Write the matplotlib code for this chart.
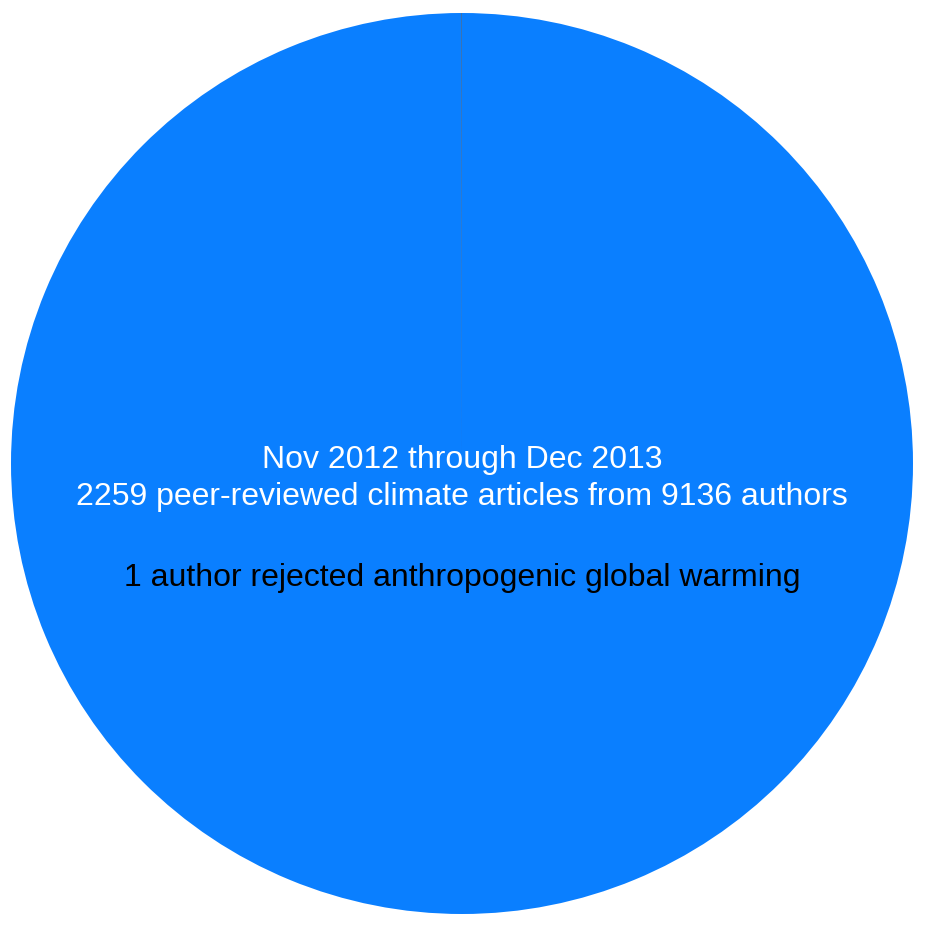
import matplotlib
matplotlib.use("Agg")
import matplotlib.pyplot as plt

labels = ["Accepted or no position", "Rejected AGW"]
authors = [9135, 1]
colors = ["#0A7FFF", "#000000"]

plt.rcParams["font.family"] = ["Liberation Sans", "DejaVu Sans"]

fig = plt.figure(figsize=(9.28, 9.36), dpi=100)
ax = fig.add_axes([11 / 928, 22 / 936, 902 / 928, 901 / 936])
ax.pie(authors, colors=colors, startangle=90, counterclock=False,
       wedgeprops=dict(linewidth=0))
ax.set_aspect("auto")
ax.set_xlim(-1, 1)
ax.set_ylim(-1, 1)

ax.text(0.5, 1 - (460 - 13) / 901, "Nov 2012 through Dec 2013", color="white",
        fontsize=23, ha="center", va="center", transform=ax.transAxes)
ax.text(0.5, 1 - (497 - 13) / 901, "2259 peer-reviewed climate articles from 9136 authors",
        color="white", fontsize=23, ha="center", va="center", transform=ax.transAxes)
ax.text(0.5, 1 - (578 - 13) / 901, "1 author rejected anthropogenic global warming",
        color="black", fontsize=23, ha="center", va="center", transform=ax.transAxes)

fig.savefig("out.png", dpi=100, facecolor="white")
